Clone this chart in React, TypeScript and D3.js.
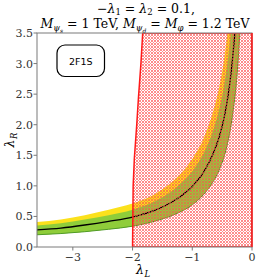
import React from 'react';
import { scaleLinear, line, area, curveMonotoneX } from 'd3';

// lambda_L grid and the read-off bands (lambda_R)
const lamL = [-3.6, -3.2, -2.8, -2.4, -2.0, -1.6, -1.3, -1.0, -0.8, -0.65, -0.55, -0.47, -0.4, -0.35, -0.3, -0.27, -0.24, -0.21, -0.19];
const central = [0.28, 0.31, 0.36, 0.42, 0.49, 0.61, 0.76, 0.99, 1.24, 1.53, 1.8, 2.1, 2.48, 2.85, 3.35, 3.7, 4.2, 4.8, 5.3];
const lower1 = [0.2, 0.22, 0.25, 0.29, 0.34, 0.43, 0.53, 0.69, 0.87, 1.07, 1.26, 1.47, 1.74, 2.0, 2.35, 2.6, 2.95, 3.4, 3.7];
const upper1 = [0.35, 0.39, 0.45, 0.52, 0.61, 0.76, 0.95, 1.24, 1.55, 1.91, 2.25, 2.63, 3.1, 3.56, 4.2, 4.6, 5.2, 6.0, 6.6];
const upper2 = [0.41, 0.45, 0.52, 0.61, 0.71, 0.88, 1.1, 1.44, 1.8, 2.22, 2.61, 3.05, 3.6, 4.1, 4.9, 5.4, 6.1, 7.0, 7.7];

// excluded (hatched) region, left boundary
const exclL = [-2.0, -1.99, -1.97, -1.93, -1.9, -1.86, -1.83];
const exclR = [0, 1.0, 1.45, 2.0, 2.46, 3.0, 3.5];

const xTicks = [-3, -2, -1, 0];
const yTicks = [0, 0.5, 1.0, 1.5, 2.0, 2.5, 3.0, 3.5];

const W = 258, H = 280;
const margin = { top: 33, right: 6, bottom: 33, left: 37 };

// 3px cross-hatch cell, pixels on both diagonals
const hatchCells = [[0, 0], [1, 1], [2, 2], [1, 2], [2, 1]];

export default function App() {
  const x = scaleLinear().domain([-3.6, 0]).range([margin.left, W - margin.right]);
  const y = scaleLinear().domain([0, 3.5]).range([H - margin.bottom, margin.top]);

  const pts = lamL.map((l, i) => ({ l, c: central[i], lo: lower1[i], u1: upper1[i], u2: upper2[i] }));
  const band = (lo: (d: any) => number, hi: (d: any) => number) =>
    area<any>().x(d => x(d.l)).y0(d => y(lo(d))).y1(d => y(hi(d))).curve(curveMonotoneX)(pts) || '';
  const centralPath = line<any>().x(d => x(d.l)).y(d => y(d.c)).curve(curveMonotoneX)(pts) || '';
  const lowerPath = line<any>().x(d => x(d.l)).y(d => y(d.lo)).curve(curveMonotoneX)(pts) || '';

  const excl = exclL.map((l, i) => [x(l), y(exclR[i])] as [number, number]);
  excl.push([x(0), y(3.5)], [x(0), y(0)]);
  const exclPath = 'M' + excl.map(p => p.join(',')).join('L') + 'Z';

  const x0 = margin.left, x1 = W - margin.right, y0 = H - margin.bottom, y1 = margin.top;
  const serif = { fontFamily: "'DejaVu Serif', serif" };
  const axisCol = '#7a7a7a';

  return (
    <svg width={W} height={H} style={{ position: 'absolute', left: 0, top: 0, background: '#fff' }}>
      <defs>
        <clipPath id="plot">
          <rect x={x0} y={y1} width={x1 - x0} height={y0 - y1} />
        </clipPath>
        <pattern id="hatch" width={3} height={3} patternUnits="userSpaceOnUse">
          {hatchCells.map(([cx, cy], i) => (
            <rect key={i} x={cx} y={cy} width={1} height={1} fill="#ff4d4d" opacity={0.65} shapeRendering="crispEdges" />
          ))}
        </pattern>
      </defs>

      {/* title */}
      <text x={146} y={13} textAnchor="middle" style={serif} fontSize={12.5}>
        −<tspan fontStyle="italic">λ</tspan><tspan fontSize={8.5} dy={2}>1</tspan><tspan dy={-2}> = </tspan><tspan fontStyle="italic">λ</tspan><tspan fontSize={8.5} dy={2}>2</tspan><tspan dy={-2}> = 0.1,</tspan>
      </text>
      <text x={145} y={28} textAnchor="middle" style={serif} fontSize={12.5}>
        <tspan fontStyle="italic">M</tspan><tspan fontSize={8.5} dy={3} fontStyle="italic">ψ</tspan><tspan fontSize={6} dy={1.5} fontStyle="italic">s</tspan><tspan dy={-4.5}> = 1 TeV, </tspan><tspan fontStyle="italic">M</tspan><tspan fontSize={8.5} dy={3} fontStyle="italic">ψ</tspan><tspan fontSize={6} dy={1.5} fontStyle="italic">d</tspan><tspan dy={-4.5}> = </tspan><tspan fontStyle="italic">M</tspan><tspan fontSize={8.5} dy={3} fontStyle="italic">φ</tspan><tspan dy={-3}> = 1.2 TeV</tspan>
      </text>

      <g clipPath="url(#plot)">
        <path d={band(d => d.lo, d => d.u2)} fill="#fbe11c" />
        <path d={band(d => d.lo, d => d.u1)} fill="#8fcd3a" />
        <path d={lowerPath} fill="none" stroke="#4f9b2a" strokeWidth={1} />
        <path d={centralPath} fill="none" stroke="#000" strokeWidth={1.3} />
        <path d={exclPath} fill="url(#hatch)" stroke="#ff1a1a" strokeWidth={1.5} />
      </g>

      {/* frame */}
      <rect x={x0} y={y1} width={x1 - x0} height={y0 - y1} fill="none" stroke={axisCol} strokeWidth={1} />
      <path d={`M${x(0)},${y1}V${y0}`} stroke="#ff1a1a" strokeWidth={1.5} />

      {/* ticks */}
      {yTicks.map(t => (
        <g key={'y' + t}>
          <line x1={x0 - 3.5} x2={x0} y1={y(t)} y2={y(t)} stroke={axisCol} />
          <text x={x0 - 4} y={y(t) + 4} textAnchor="end" style={serif} fontSize={11} fill="#333">{t.toFixed(1)}</text>
        </g>
      ))}
      {xTicks.map(t => (
        <g key={'x' + t}>
          <line x1={x(t)} x2={x(t)} y1={y0} y2={y0 + 3.5} stroke={axisCol} />
          <text x={x(t)} y={y0 + 14} textAnchor="middle" style={serif} fontSize={11} fill="#333">{t === 0 ? '0' : '−' + Math.abs(t)}</text>
        </g>
      ))}

      {/* axis labels */}
      <text x={143} y={274} textAnchor="middle" style={serif} fontSize={12.5}>
        <tspan fontStyle="italic">λ</tspan><tspan fontSize={8.5} dx={0.5} dy={3} fontStyle="italic">L</tspan>
      </text>
      <text transform="translate(14,140) rotate(-90)" textAnchor="middle" style={serif} fontSize={12.5}>
        <tspan fontStyle="italic">λ</tspan><tspan fontSize={8.5} dx={0.5} dy={3} fontStyle="italic">R</tspan>
      </text>

      {/* annotation */}
      <rect x={57} y={45} width={47.5} height={31.5} rx={8} fill="#fff" stroke="#000" strokeWidth={1.2} />
      <text x={80.7} y={64.5} textAnchor="middle" style={{ fontFamily: "'DejaVu Sans', sans-serif" }} fontSize={9.5}>2F1S</text>
    </svg>
  );
}
